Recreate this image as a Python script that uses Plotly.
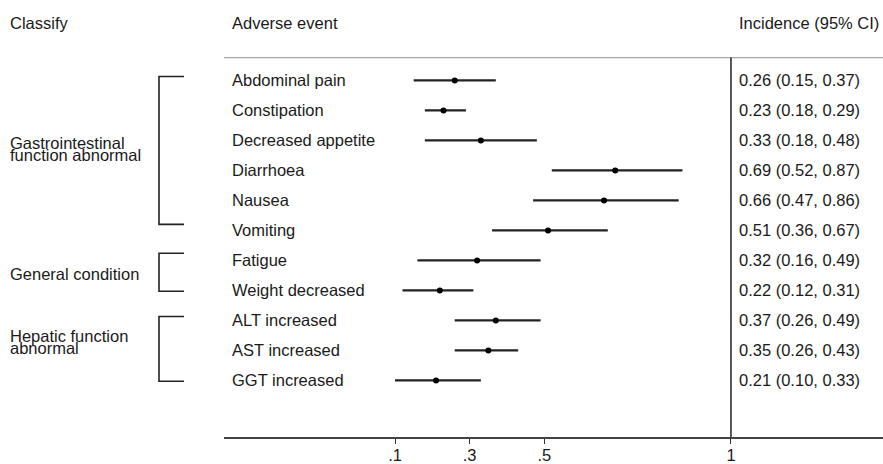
import plotly.graph_objects as go

# ---- data ----
events = ["Abdominal pain", "Constipation", "Decreased appetite", "Diarrhoea",
          "Nausea", "Vomiting", "Fatigue", "Weight decreased",
          "ALT increased", "AST increased", "GGT increased"]
incidence = [0.26, 0.23, 0.33, 0.69, 0.66, 0.51, 0.32, 0.22, 0.37, 0.35, 0.21]
ci_low = [0.15, 0.18, 0.18, 0.52, 0.47, 0.36, 0.16, 0.12, 0.26, 0.26, 0.10]
ci_high = [0.37, 0.29, 0.48, 0.87, 0.86, 0.67, 0.49, 0.31, 0.49, 0.43, 0.33]
group_names = [["Gastrointestinal", "function abnormal"],
               ["General condition"],
               ["Hepatic function", "abnormal"]]
group_first = [0, 6, 8]
group_last = [5, 7, 10]
tick_vals = [0.1, 0.3, 0.5, 1]
tick_labels = [".1", ".3", ".5", "1"]
headers = ["Classify", "Adverse event", "Incidence (95% CI)"]

# ---- layout geometry (pixels) ----
W, H = 883, 464
DY = 2
L, R, T, B = 224, 0, 0, 26 - DY
plot_w = W - L - R
row0_px, row_step = 79 + DY, 30.2
px_per_unit = 373.3
x_at_01 = 395
xmin = 0.1 - (x_at_01 - L) / px_per_unit
xmax = xmin + plot_w / px_per_unit
ytop = (T - row0_px) / row_step
ybot = (H - B - row0_px) / row_step


def py(px):
    return (px + DY - row0_px) / row_step


def paper_x(px):
    return (px - L) / plot_w


FONT = "Liberation Sans, Arial, sans-serif"
TXT = "#1a1a1a"
FS = 16.5

rows = list(range(len(events)))

fig = go.Figure()
fig.add_trace(go.Scatter(
    x=incidence, y=rows, mode="markers",
    marker=dict(color="black", size=6),
    error_x=dict(type="data", symmetric=False,
                 array=[h - e for h, e in zip(ci_high, incidence)],
                 arrayminus=[e - l for e, l in zip(incidence, ci_low)],
                 color="#222222", thickness=2.2, width=0),
    hoverinfo="skip", showlegend=False, cliponaxis=False))

annotations = []
# event labels
x_lab = xmin + 6 / px_per_unit
x_ci = 1 + 6 / px_per_unit
for i, ev in enumerate(events):
    annotations.append(dict(x=x_lab, y=i, xref="x", yref="y", text=ev,
                            showarrow=False, xanchor="left", yanchor="middle",
                            font=dict(family=FONT, size=FS, color=TXT)))
    annotations.append(dict(x=x_ci, y=i, xref="x", yref="y",
                            text=f"{incidence[i]:.2f} ({ci_low[i]:.2f}, {ci_high[i]:.2f})",
                            showarrow=False, xanchor="left", yanchor="middle",
                            font=dict(family=FONT, size=FS, color=TXT)))

# headers
hy = py(21)
annotations.append(dict(x=paper_x(8), y=hy, xref="paper", yref="y", text=headers[0],
                        showarrow=False, xanchor="left", yanchor="middle",
                        font=dict(family=FONT, size=FS, color=TXT)))
annotations.append(dict(x=x_lab, y=hy, xref="x", yref="y", text=headers[1],
                        showarrow=False, xanchor="left", yanchor="middle",
                        font=dict(family=FONT, size=FS, color=TXT)))
annotations.append(dict(x=x_ci, y=hy, xref="x", yref="y", text=headers[2],
                        showarrow=False, xanchor="left", yanchor="middle",
                        font=dict(family=FONT, size=FS, color=TXT)))

# group labels and brackets
shapes = []
label_centers_px = [148, 274, 342]
bracket_top_off = [-0.13, -0.24, -0.13]
bracket_bot_off = [-0.2, 0.03, 0.03]
bx0, bx1 = paper_x(159), paper_x(184)
for g, names in enumerate(group_names):
    c = label_centers_px[g]
    n = len(names)
    for k, nm in enumerate(names):
        ypx = c + (k - (n - 1) / 2) * 12
        annotations.append(dict(x=paper_x(8), y=py(ypx), xref="paper", yref="y", text=nm,
                                showarrow=False, xanchor="left", yanchor="middle",
                                font=dict(family=FONT, size=FS, color=TXT)))
    yt = group_first[g] + bracket_top_off[g]
    yb = group_last[g] + bracket_bot_off[g]
    shapes.append(dict(type="path", xref="paper", yref="y",
                       path=f"M {bx1},{yt} L {bx0},{yt} L {bx0},{yb} L {bx1},{yb}",
                       line=dict(color="#222222", width=1.6)))

# header rule
yrule = py(56)
shapes.append(dict(type="line", xref="paper", yref="y", x0=0, x1=1, y0=yrule, y1=yrule,
                   line=dict(color="#a8a8a8", width=1.2)))
# reference line at 1
shapes.append(dict(type="line", xref="x", yref="y", x0=1, x1=1, y0=yrule, y1=ybot,
                   line=dict(color="#222222", width=1.5)))

fig.update_layout(
    width=W, height=H,
    margin=dict(l=L, r=R, t=T, b=B),
    paper_bgcolor="white", plot_bgcolor="white",
    annotations=annotations, shapes=shapes,
    xaxis=dict(range=[xmin, xmax], showgrid=False, zeroline=False,
               showline=True, linecolor="#444444", linewidth=1.5,
               tickvals=tick_vals, ticktext=tick_labels,
               ticks="outside", ticklen=5, tickwidth=1.4, tickcolor="#333333",
               ticklabelstandoff=-3,
               tickfont=dict(family=FONT, size=FS, color=TXT)),
    yaxis=dict(range=[ybot, ytop], visible=False, showgrid=False, zeroline=False),
    font=dict(family=FONT, color=TXT),
)

fig.write_html("out.html", config={"displayModeBar": False},
               post_script="document.body.style.margin='0';document.body.style.padding='0';")
